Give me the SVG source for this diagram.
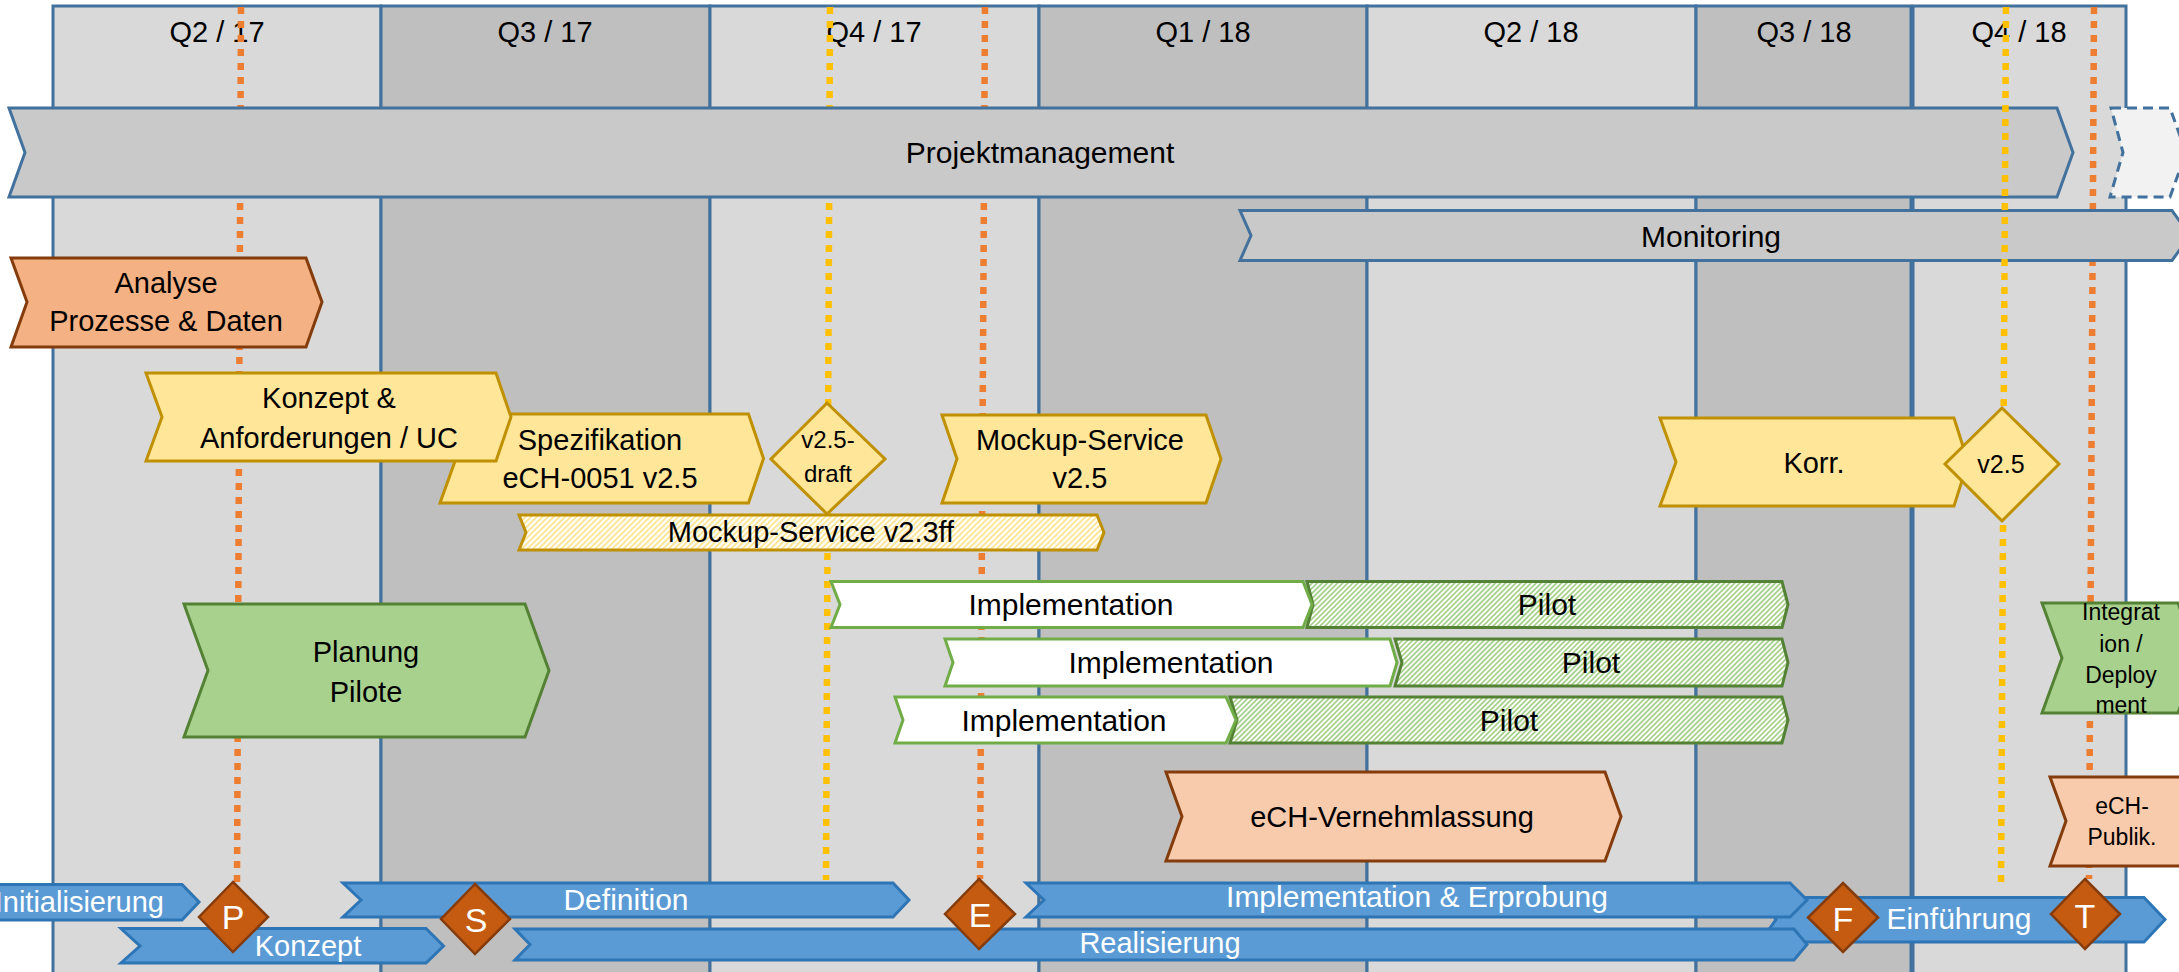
<svg xmlns="http://www.w3.org/2000/svg" width="2179" height="972" viewBox="0 0 2179 972">
<style>
.col-l{fill:#D9D9D9;stroke:#41719C;stroke-width:3}
.col-d{fill:#BFBFBF;stroke:#41719C;stroke-width:3}
.t{font-family:"Liberation Sans",Arial,sans-serif;text-anchor:middle;fill:#000;font-size:29px}
.ql{font-size:29px}
.big{font-size:30px}
.sm{font-size:23px}
.w{fill:#fff}
.msl{font-size:34px;fill:#fff}
.pm{fill:#C9C9C9;stroke:#41719C;stroke-width:3}
.dsh{fill:#F2F2F2;stroke:#41719C;stroke-width:3;stroke-dasharray:10 6}
.org{fill:#F4B183;stroke:#843C0C;stroke-width:3}
.peach{fill:#F8CBAD;stroke:#843C0C;stroke-width:3}
.yel{fill:#FFE699;stroke:#BF9000;stroke-width:3}
.yelh{fill:url(#hatchY);stroke:#BF9000;stroke-width:3}
.grn{fill:#A9D18E;stroke:#548235;stroke-width:3}
.impl{fill:#FFFFFF;stroke:#70AD47;stroke-width:3}
.pilot{fill:url(#hatchG);stroke:#548235;stroke-width:3}
.blue{fill:#5B9BD5;stroke:#2E75B6;stroke-width:3}
.ms{fill:#C55A11;stroke:#843C0C;stroke-width:2.5}
.dot-o{stroke:#ED7D31;stroke-width:6.5;stroke-dasharray:7 7;fill:none}
.dot-y{stroke:#FFC000;stroke-width:6.5;stroke-dasharray:7 7;fill:none}
</style>
<defs>
<pattern id="hatchY" patternUnits="userSpaceOnUse" width="4" height="4" patternTransform="rotate(45)">
<rect width="4" height="4" fill="#FFFFFF"/><rect width="2" height="4" fill="#FFE699"/>
</pattern>
<pattern id="hatchG" patternUnits="userSpaceOnUse" width="3.6" height="3.6" patternTransform="rotate(45)">
<rect width="3.6" height="3.6" fill="#FFFFFF"/><rect width="1.8" height="3.6" fill="#A9D18E"/>
</pattern>
</defs>
<rect width="2179" height="972" fill="#FFFFFF"/>

<g id="quarters">
<rect class="col-l" x="53" y="6" width="328" height="980"/>
<rect class="col-d" x="381" y="6" width="329" height="980"/>
<rect class="col-l" x="710" y="6" width="329" height="980"/>
<rect class="col-d" x="1039" y="6" width="328" height="980"/>
<rect class="col-l" x="1367" y="6" width="329" height="980"/>
<rect class="col-d" x="1696" y="6" width="215" height="980"/>
<rect class="col-l" x="1913" y="6" width="213" height="980"/>
<text class="t ql" x="217" y="42">Q2 / 17</text>
<text class="t ql" x="545" y="42">Q3 / 17</text>
<text class="t ql" x="874" y="42">Q4 / 17</text>
<text class="t ql" x="1203" y="42">Q1 / 18</text>
<text class="t ql" x="1531" y="42">Q2 / 18</text>
<text class="t ql" x="1804" y="42">Q3 / 18</text>
<text class="t ql" x="2019" y="42">Q4 / 18</text>
</g>

<g id="connectors-back">
<line class="dot-o" x1="241" y1="7" x2="237" y2="882"/>
<line class="dot-y" x1="830" y1="7" x2="826" y2="880"/>
<line class="dot-o" x1="985" y1="7" x2="980" y2="879"/>
</g>

<g id="projektmanagement">
<polygon class="pm" points="9,108 2057,108 2073,152.5 2057,197 9,197 25,152.5"/>
<text class="t big" x="1040" y="163">Projektmanagement</text>
</g>
<g id="pm-continuation">
<polygon class="dsh" points="2111,108 2170,108 2186,152.5 2170,197 2110,197 2123,152.5"/>
</g>

<g id="connectors-mid">
<line class="dot-o" x1="2094" y1="7" x2="2089" y2="879"/>
</g>

<g id="monitoring">
<polygon class="pm" points="1240,210.5 2172,210.5 2190,235.5 2172,260.5 1240,260.5 1251,235.5"/>
<text class="t big" x="1711" y="247">Monitoring</text>
</g>

<g id="connectors-front">
<line class="dot-y" x1="2006" y1="7" x2="2001" y2="885"/>
</g>

<g id="analyse">
<polygon class="org" points="11,258 306,258 322,302 306,347 11,347 27,302"/>
<text class="t" x="166" y="293">Analyse</text>
<text class="t" x="166" y="331">Prozesse &amp; Daten</text>
</g>

<g id="spezifikation">
<polygon class="yel" points="440,414 748.5,414 763.5,458.5 748.5,503 440,503 456,458.5"/>
<text class="t" x="600" y="450">Spezifikation</text>
<text class="t" x="600" y="488">eCH-0051 v2.5</text>
</g>

<g id="konzept-anforderungen">
<polygon class="yel" points="146,373 496,373 511,417 496,461 146,461 162,417"/>
<text class="t" x="329" y="408">Konzept &amp;</text>
<text class="t" x="329" y="448">Anforderungen / UC</text>
</g>

<g id="mockup-v23">
<polygon class="yelh" points="519,515 1097,515 1104,532.5 1097,550 519,550 526,532.5"/>
<text class="t" x="811" y="542">Mockup-Service v2.3ff</text>
</g>

<g id="v25-draft">
<polygon class="yel" points="827,403 885,459 827,514 771,459"/>
<text class="t" x="828" y="448" style="font-size:24px">v2.5-</text>
<text class="t" x="828" y="482" style="font-size:24px">draft</text>
</g>

<g id="mockup-v25">
<polygon class="yel" points="942,415 1206,415 1221,459 1206,503 942,503 957,459"/>
<text class="t" x="1080" y="450">Mockup-Service</text>
<text class="t" x="1080" y="488">v2.5</text>
</g>

<g id="korr">
<polygon class="yel" points="1660,418 1954,418 1968,462 1954,506 1660,506 1676,462"/>
<text class="t" x="1814" y="473">Korr.</text>
</g>

<g id="v25">
<polygon class="yel" points="2002,408 2059,464 2002,521 1945,464"/>
<text class="t" x="2001" y="473" style="font-size:25px">v2.5</text>
</g>

<g id="pilot-1">
<polygon class="pilot" points="1307,581.5 1782,581.5 1788,604.5 1782,627.5 1307,627.5 1313,604.5"/>
<text class="t big" x="1547" y="615">Pilot</text>
</g>
<g id="implementation-1">
<polygon class="impl" points="831,581.5 1303,581.5 1312,604.5 1303,627.5 831,627.5 840,604.5"/>
<text class="t big" x="1071" y="615">Implementation</text>
</g>

<g id="pilot-2">
<polygon class="pilot" points="1395,639 1782,639 1788,662.5 1782,686 1395,686 1402,662.5"/>
<text class="t big" x="1591" y="673">Pilot</text>
</g>
<g id="implementation-2">
<polygon class="impl" points="945,639 1390,639 1397,662.5 1390,686 945,686 953,662.5"/>
<text class="t big" x="1171" y="673">Implementation</text>
</g>

<g id="pilot-3">
<polygon class="pilot" points="1230,697 1782,697 1788,720 1782,743 1230,743 1237,720"/>
<text class="t big" x="1509" y="731">Pilot</text>
</g>
<g id="implementation-3">
<polygon class="impl" points="895,697 1226,697 1236,720 1226,743 895,743 903,720"/>
<text class="t big" x="1064" y="731">Implementation</text>
</g>

<g id="planung-pilote">
<polygon class="grn" points="184,604 525,604 549,670.5 525,737 184,737 208,670.5"/>
<text class="t" x="366" y="662">Planung</text>
<text class="t" x="366" y="702">Pilote</text>
</g>

<g id="integration">
<polygon class="grn" points="2042,603 2178,603 2198,658 2178,713 2042,713 2062,658"/>
<text class="t sm" x="2121" y="620">Integrat</text>
<text class="t sm" x="2121" y="652">ion /</text>
<text class="t sm" x="2121" y="683">Deploy</text>
<text class="t sm" x="2121" y="713">ment</text>
</g>

<g id="ech-vernehmlassung">
<polygon class="peach" points="1166,772 1605,772 1621,816.5 1605,861 1166,861 1182,816.5"/>
<text class="t" x="1392" y="827">eCH-Vernehmlassung</text>
</g>

<g id="ech-publik">
<polygon class="peach" points="2050,777 2180,777 2196,821 2180,866 2050,866 2066,821"/>
<text class="t sm" x="2122" y="814">eCH-</text>
<text class="t sm" x="2122" y="845">Publik.</text>
</g>

<g id="phase-initialisierung">
<polygon class="blue" points="-20,884.5 182,884.5 199,902 182,920 -20,920"/>
<text class="t w" x="164" y="912" style="text-anchor:end">Initialisierung</text>
</g>

<g id="phase-konzept">
<polygon class="blue" points="121,928.5 426,928.5 443.5,946 426,963 121,963 140,946"/>
<text class="t w" x="308" y="956">Konzept</text>
</g>

<g id="phase-definition">
<polygon class="blue" points="343,883 893,883 909,900 893,917 343,917 361,900"/>
<text class="t w big" x="626" y="910">Definition</text>
</g>

<g id="phase-einfuehrung">
<polygon class="blue" points="1760,897.5 2144,897.5 2165,919.5 2144,942 1760,942 1776,919.5"/>
<text class="t w big" x="1959" y="929">Einführung</text>
</g>

<g id="phase-realisierung">
<polygon class="blue" points="515,929 1794,929 1807,944.5 1794,960 515,960 530,944.5"/>
<text class="t w" x="1160" y="953">Realisierung</text>
</g>

<g id="phase-implementation-erprobung">
<polygon class="blue" points="1026,883 1790,883 1807,900 1790,917 1026,917 1044,900"/>
<text class="t w big" x="1417" y="907">Implementation &amp; Erprobung</text>
</g>

<g id="milestone-p">
<polygon class="ms" points="233,882 268,917 233,952 199,917"/>
<text class="t msl" x="233" y="929">P</text>
</g>
<g id="milestone-s">
<polygon class="ms" points="475,884 510,919 475,954 441,919"/>
<text class="t msl" x="476" y="932">S</text>
</g>
<g id="milestone-e">
<polygon class="ms" points="979,879 1015,914 979,949 945,914"/>
<text class="t msl" x="980" y="927">E</text>
</g>
<g id="milestone-f">
<polygon class="ms" points="1843,883 1878,917.5 1843,952 1808,917.5"/>
<text class="t msl" x="1843" y="931">F</text>
</g>
<g id="milestone-t">
<polygon class="ms" points="2085,879 2120,914 2085,949 2051,914"/>
<text class="t msl" x="2085" y="928">T</text>
</g>
</svg>
